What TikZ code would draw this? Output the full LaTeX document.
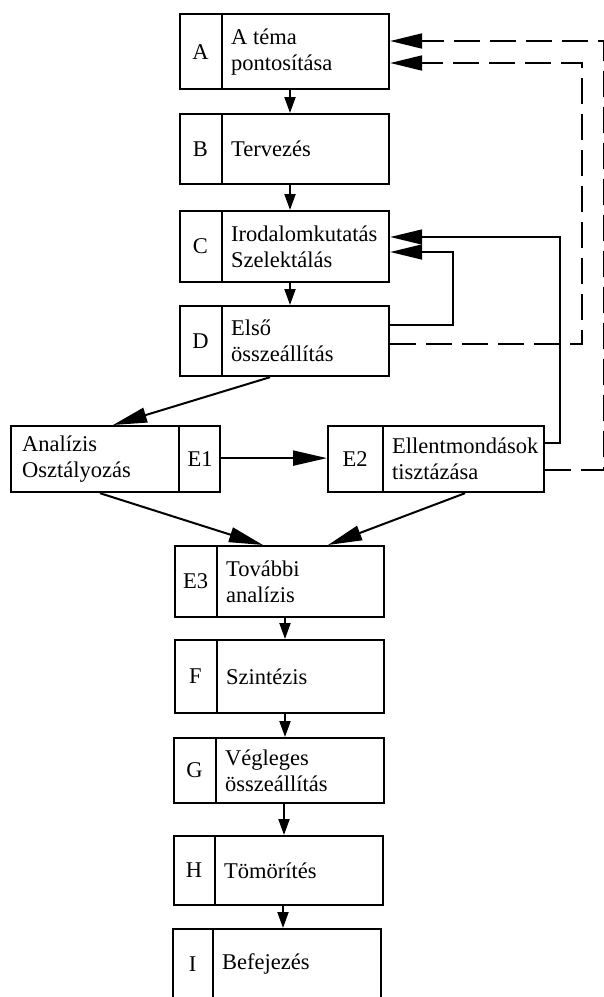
\documentclass[tikz,border=0pt]{standalone}
\usepackage{fontspec}
\setmainfont{Liberation Serif}
\usetikzlibrary{arrows.meta,calc}
\tikzset{
  boxframe/.style={draw, line width=2.2pt, inner sep=0pt, anchor=north west},
  divline/.style={line width=2.2pt},
  lettr/.style={inner sep=0pt, font=\fontsize{22.5}{26}\selectfont},
  txt/.style={inner sep=0pt, align=left, anchor=west, font=\fontsize{22.5}{26}\selectfont},
  conn/.style={line width=2pt},
  smallarr/.style={conn, -{Triangle[length=16pt, width=11pt]}},
  bigarr/.style={conn, -{Triangle[length=34pt, width=15pt]}},
  fb/.style={line width=1.6pt, -{Triangle[length=32pt, width=15pt]}},
  fbdash/.style={line width=1.9pt, dash pattern=on 26pt off 10pt, -{Triangle[length=32pt, width=15pt]}}
}
% name, x, y(top), width, height, letter column width, letter, text
\newcommand\flowbox[8]{%
  \node[boxframe, minimum width=#4pt, minimum height=#5pt] (#1) at (#2,#3) {};
  \draw[divline] ($(#1.north west)+(#6,0)$) -- ($(#1.south west)+(#6,0)$);
  \node[lettr] (#1l) at ($(#1.west)+(#6/2,0)$) {#7};
  \node[txt] (#1t) at ($(#1.west)+(#6+9,0)$) {#8};
}
\begin{document}
\begin{tikzpicture}[x=1pt, y=-1pt]
\useasboundingbox (0,0) rectangle (604,997);
\fill[white] (0,0) rectangle (604,997);

\flowbox{A}{179}{13}{209}{75}{43}{A}{A téma\\pontosítása}
\flowbox{B}{179}{113}{209}{70}{43}{B}{Tervezés}
\flowbox{C}{179}{210}{209}{71}{43}{C}{Irodalomkutatás\\Szelektálás}
\flowbox{D}{179}{305}{209}{70}{43}{D}{Első\\összeállítás}

% E1: letter column on the right
\node[boxframe, minimum width=209pt, minimum height=66pt] (E1) at (10,425) {};
\draw[divline] ($(E1.north east)+(-42,0)$) -- ($(E1.south east)+(-42,0)$);
\node[lettr] (E1l) at ($(E1.east)+(-21,0)$) {E1};
\node[txt] (E1t) at ($(E1.west)+(12,0)$) {Analízis\\Osztályozás};

\flowbox{E2}{327}{425}{216}{66}{56}{E2}{Ellentmondások\\tisztázása}
\flowbox{E3}{174}{545}{209}{71}{43}{E3}{További\\analízis}
\flowbox{F}{174}{639}{209}{73}{43}{F}{Szintézis}
\flowbox{G}{173}{737}{210}{65}{43}{G}{Végleges\\összeállítás}
\flowbox{H}{173}{835}{209}{69}{42}{H}{Tömörítés}
\flowbox{I}{172}{928}{208}{70}{41}{I}{Befejezés}

% main flow
\draw[smallarr] ($(A.south west)+(111,0)$) -- ($(B.north west)+(111,0)$);
\draw[smallarr] ($(B.south west)+(111,0)$) -- ($(C.north west)+(111,0)$);
\draw[smallarr] ($(C.south west)+(111,0)$) -- ($(D.north west)+(111,0)$);
\draw[bigarr] ($(D.south west)+(91,0)$) -- ($(E1.north west)+(103,0)$);
\draw[bigarr] ($(E1.east)+(0,-1)$) -- ($(E2.west)+(0,-1)$);
\draw[bigarr] ($(E1.south west)+(90,0)$) -- ($(E3.north west)+(89,0)$);
\draw[bigarr] ($(E2.south west)+(138,0)$) -- ($(E3.north west)+(154,0)$);
\draw[smallarr] ($(E3.south west)+(111,0)$) -- ($(F.north west)+(111,0)$);
\draw[smallarr] ($(F.south west)+(111,0)$) -- ($(G.north west)+(112,0)$);
\draw[smallarr] ($(G.south west)+(111,0)$) -- ($(H.north west)+(111,0)$);
\draw[smallarr] ($(H.south west)+(110,0)$) -- ($(I.north west)+(111,0)$);

% feedback loops
\draw[fb] ($(E2.north east)+(0,18)$) -- ++(15,0) |- ($(C.north east)+(0,27)$);
\draw[fb] ($(D.north east)+(0,20)$) -- ++(63,0) |- ($(C.north east)+(0,42)$);
\draw[fbdash] ($(D.north east)+(0,39)$) -- ++(192,0) |- ($(A.north east)+(0,50)$);
\draw[fbdash] ($(E2.north east)+(0,45)$) -- ++(59,0) |- ($(A.north east)+(0,28)$);
\end{tikzpicture}
\end{document}
